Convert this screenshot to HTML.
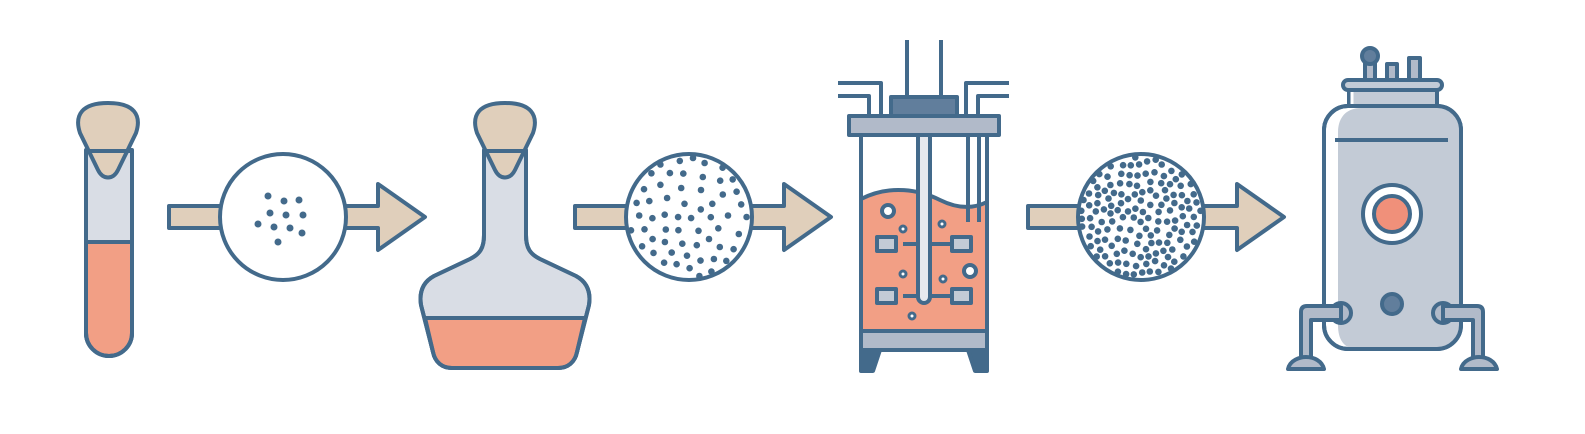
<!DOCTYPE html>
<html><head><meta charset="utf-8"><style>
html,body{margin:0;padding:0;background:#fff;width:1585px;height:434px;overflow:hidden}
</style></head><body>
<svg id="s" width="1585" height="434" viewBox="0 0 1585 434" xmlns="http://www.w3.org/2000/svg">
<g stroke="#436a8b" stroke-width="4" stroke-linejoin="round" fill="none">
<!-- arrows -->
<path d="M169 206 H378 V184 L425 217 L378 250 V228 H169 Z" fill="#e0cfbb"/>
<path d="M575 206 H784 V184 L831 217 L784 250 V228 H575 Z" fill="#e0cfbb"/>
<path d="M1028 206 H1237 V184 L1284 217 L1237 250 V228 H1028 Z" fill="#e0cfbb"/>
<circle cx="283" cy="217" r="63" fill="#fff"/>
<circle cx="689" cy="217" r="63" fill="#fff"/>
<circle cx="1141" cy="217" r="63" fill="#fff"/>

<!-- test tube -->
<path d="M86 150 V333 A23 23 0 0 0 132 333 V150 Z" fill="#d9dde5"/>
<path d="M86 242 V333 A23 23 0 0 0 132 333 V242 Z" fill="#f29f85"/>
<path d="M86 150 V333 A23 23 0 0 0 132 333 V150"/>
<line x1="86" y1="242" x2="132" y2="242"/>
<path d="M108 103 C82 103 74 115 80 133 L98 170 C103 180 113 180 118 170 L136 133 C142 115 134 103 108 103 Z" fill="#e0cfbb"/>
<line x1="86" y1="151" x2="132" y2="151"/>

<!-- flask -->
<path d="M484 150 V235 C484 248 480 254 470 259 L434 276 C423 282 419 292 421 305 L433 352 C435 362 442 368 452 368 H558 C568 368 575 362 577 352 L589 305 C591 292 587 282 576 276 L540 259 C530 254 526 248 526 235 V150 Z" fill="#d9dde5"/>
<path d="M425 318 H585 L577 352 C575 362 568 368 558 368 H452 C442 368 435 362 433 352 Z" fill="#f29f85"/>
<path d="M484 150 V235 C484 248 480 254 470 259 L434 276 C423 282 419 292 421 305 L433 352 C435 362 442 368 452 368 H558 C568 368 575 362 577 352 L589 305 C591 292 587 282 576 276 L540 259 C530 254 526 248 526 235 V150"/>
<line x1="425" y1="318" x2="585" y2="318"/>
<path d="M505 103 C479 103 471 115 477 133 L495 170 C500 180 510 180 515 170 L533 133 C539 115 531 103 505 103 Z" fill="#e0cfbb"/>
<line x1="483" y1="151" x2="527" y2="151"/>

<!-- reactor -->
<line x1="907" y1="40" x2="907" y2="97"/><line x1="941" y1="40" x2="941" y2="97"/>
<path d="M838 83 H881 V116 M838 96 H869 V116"/>
<path d="M1009 83 H966 V116 M1009 96 H978 V116"/>
<rect x="861" y="135" width="126" height="196" fill="#fff"/>
<path d="M861 199 C890 184 920 190 940 200 C960 210 975 208 987 202 V331 H861 Z" fill="#f29f85"/>
<line x1="987" y1="135" x2="987" y2="331"/>
<line x1="861" y1="135" x2="861" y2="331"/>
<line x1="968" y1="135" x2="968" y2="222"/><line x1="979" y1="135" x2="979" y2="222"/>
<line x1="903" y1="244" x2="953" y2="244"/><line x1="903" y1="296" x2="953" y2="296"/>
<rect x="877" y="237" width="19" height="14" fill="#c3cbd6"/>
<rect x="952" y="237" width="19" height="14" fill="#c3cbd6"/>
<rect x="877" y="289" width="19" height="14" fill="#c3cbd6"/>
<rect x="952" y="289" width="19" height="14" fill="#c3cbd6"/>
<path d="M918 135 V297 A6 6 0 0 0 930 297 V135" fill="#e6e9ee"/>
<circle cx="888" cy="211" r="6" fill="#fff"/><circle cx="970" cy="271" r="6" fill="#fff"/>
<circle cx="903" cy="229" r="3" fill="#fff" stroke-width="3"/><circle cx="942" cy="224" r="3" fill="#fff" stroke-width="3"/>
<circle cx="903" cy="274" r="3" fill="#fff" stroke-width="3"/><circle cx="943" cy="279" r="3" fill="#fff" stroke-width="3"/>
<circle cx="912" cy="316" r="3" fill="#fff" stroke-width="3"/>
<rect x="891" y="97" width="66" height="19" fill="#617e9c"/>
<rect x="849" y="116" width="150" height="19" fill="#b1bac9"/>
<rect x="861" y="331" width="126" height="19" fill="#b1bac9"/>
<path d="M861 350 H880 L873 371 H861 Z M987 350 H968 L975 371 H987 Z" fill="#436a8b"/>

<!-- tank -->
<rect x="1349" y="89" width="88" height="17" fill="#c3cbd6"/>
<path d="M1352 89 V106" stroke="#fff" stroke-width="3"/>
<rect x="1343" y="80" width="99" height="10" rx="5" fill="#c3cbd6"/>
<rect x="1365" y="63" width="10" height="17" fill="#b1bac9"/>
<circle cx="1370" cy="56" r="8" fill="#617e9c"/>
<rect x="1387" y="64" width="10" height="16" fill="#b1bac9"/>
<rect x="1409" y="58" width="11" height="22" fill="#b1bac9"/>
<rect x="1324" y="106" width="137" height="243" rx="24" fill="#fff"/>
<path d="M1361 108 H1437 A24 24 0 0 1 1461 132 V325 A24 24 0 0 1 1437 349 H1358 C1344 349 1338 340 1338 325 V132 C1338 118 1346 108 1361 108 Z" fill="#c3cbd6" stroke="none"/>
<rect x="1324" y="106" width="137" height="243" rx="24"/>
<line x1="1350" y1="140" x2="1463" y2="140" transform="translate(-15 -0)"/>
<circle cx="1392" cy="214" r="29" fill="#fff"/>
<circle cx="1392" cy="214" r="18" fill="#f0907a"/>
<circle cx="1392" cy="304" r="10" fill="#617e9c"/>
<circle cx="1341" cy="313" r="10" fill="#b1bac9"/>
<circle cx="1443" cy="313" r="10" fill="#b1bac9"/>
<path d="M1341 306 H1307 C1303 306 1301 308 1301 312 V360 H1311 V320 H1341 Z" fill="#b1bac9"/>
<path d="M1443 306 H1477 C1481 306 1483 308 1483 312 V360 H1473 V320 H1443 Z" fill="#b1bac9"/>
<path d="M1288 369 C1290 360 1300 357 1306 357 C1314 357 1322 361 1324 369 Z" fill="#b1bac9"/>
<path d="M1461 369 C1463 360 1473 357 1479 357 C1487 357 1495 361 1497 369 Z" fill="#b1bac9"/>
</g>
<g id="dots" fill="#436a8b"></g>
</svg>
<script>
var g=document.getElementById('dots');
var seed=7;function r(){seed=(seed*16807)%2147483647;return (seed-1)/2147483646;}
function dot(x,y,rad){var c=document.createElementNS('http://www.w3.org/2000/svg','circle');c.setAttribute('cx',x);c.setAttribute('cy',y);c.setAttribute('r',rad);g.appendChild(c);}
[[268,196],[284,201],[299,200],[270,213],[286,215],[303,215],[258,224],[274,227],[290,228],[302,233],[278,242]].forEach(function(p){dot(p[0],p[1],3.5);});
function fill(cx,cy,R,n,minD,conc){var pts=[],tries=0;while(pts.length<n&&tries<50000){tries++;var a=r()*Math.PI*2,d=conc?R*Math.pow(r(),0.8):R*Math.sqrt(r());var x=cx+d*Math.cos(a),y=cy+d*Math.sin(a);var ok=true;for(var i=0;i<pts.length;i++){var dx=pts[i][0]-x,dy=pts[i][1]-y;if(dx*dx+dy*dy<minD*minD){ok=false;break;}}if(ok)pts.push([x,y]);}pts.forEach(function(p){dot(p[0].toFixed(1),p[1].toFixed(1),3.3);});}
fill(689,217,60,80,12.5,false);
fill(1141,217,60,150,7.6,true);
</script>
</body></html>
